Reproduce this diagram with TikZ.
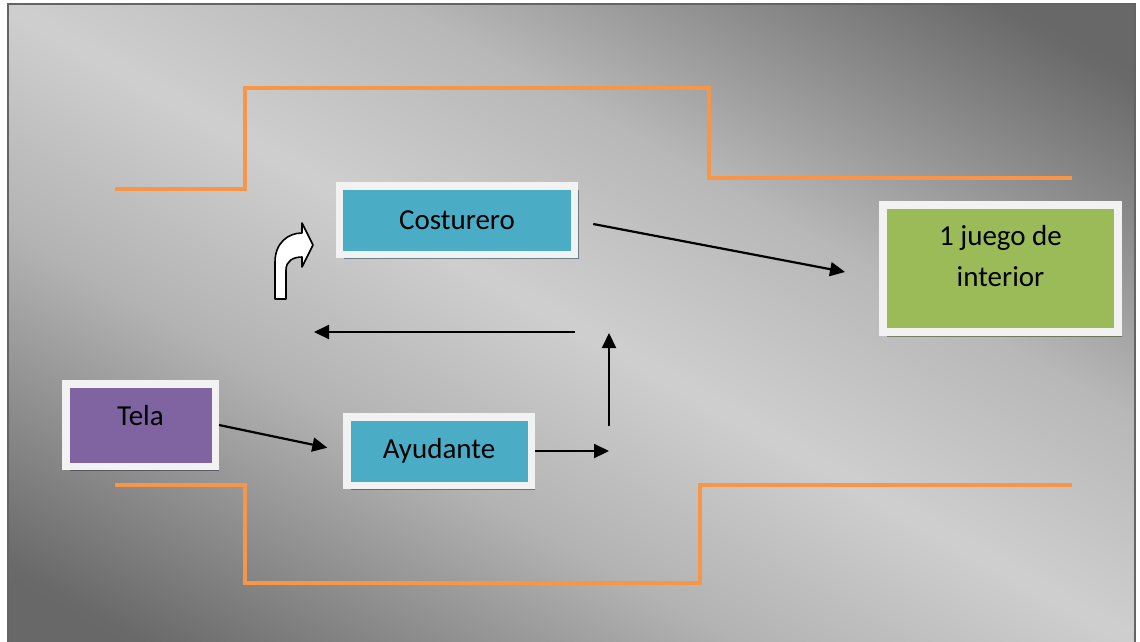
\documentclass[tikz,border=0pt]{standalone}
\usepackage{fontspec}
\setmainfont{Carlito}
\usepackage{tikz}
\usetikzlibrary{arrows.meta,calc,positioning,shadows}

\definecolor{frameline}{RGB}{100,100,100}
\definecolor{boxframe}{HTML}{F2F2F2}
\definecolor{boxblue}{HTML}{4BACC6}
\definecolor{boxgreen}{HTML}{9BBB59}
\definecolor{boxpurple}{HTML}{8064A2}
\definecolor{limitorange}{HTML}{F79646}

\pgfdeclareverticalshading{bgband}{100bp}{rgb(0bp)=(0.40,0.40,0.40); rgb(20bp)=(0.41,0.41,0.41);
  rgb(38bp)=(0.70,0.70,0.70); rgb(50bp)=(0.81,0.81,0.81); rgb(62bp)=(0.72,0.72,0.72);
  rgb(80bp)=(0.41,0.41,0.41); rgb(100bp)=(0.40,0.40,0.40)}

\tikzset{
  box/.style={draw=boxframe,line width=7.5pt,inner sep=0pt,minimum width=235pt,
    minimum height=68.5pt,font=\fontsize{29}{41}\selectfont},
  bluebox/.style={box,fill=boxblue,
    drop shadow={shadow xshift=4pt,shadow yshift=-4.5pt,fill=boxblue!40!black,opacity=.55}},
  greenbox/.style={box,fill=boxgreen,line width=8pt,
    drop shadow={shadow xshift=4pt,shadow yshift=-4.5pt,fill=boxgreen!40!black,opacity=.55}},
  purplebox/.style={box,fill=boxpurple,
    drop shadow={shadow xshift=4pt,shadow yshift=-4.5pt,fill=boxpurple!40!black,opacity=.55}},
  flow/.style={line width=2.2pt,-{Triangle[length=15pt,width=14pt]}},
  limit/.style={draw=limitorange,line width=4pt}
}

\begin{document}
\begin{tikzpicture}[x=1pt,y=-1pt]
  \useasboundingbox (0,0) rectangle (1140,641);
  \fill[white] (0,0) rectangle (1140,641);
  \shade[shading=bgband,shading angle=-29.4] (8,4) rectangle (1135,645);
  \draw[frameline,line width=2pt] (8,645) -- (8,4) -- (1135,4) -- (1135,645);

  % limites del proceso
  \draw[limit] (115,189) -- (245,189) -- (245,88) -- (709,88) -- (709,178) -- (1072,178);
  \draw[limit] (115,485) -- (245,485) -- (245,583) -- (700,583) -- (700,485) -- (1072,485);

  \node (costurero) [bluebox] at (457,220) {Costurero};
  \node (ayudante) [bluebox,minimum width=184.5pt] at (439,451) {Ayudante};
  \node (tela) [purplebox,minimum width=149.5pt,minimum height=82.5pt,
    text height=10pt,text depth=10pt] at (140.5,425) {Tela};
  \node (juego) [greenbox,minimum height=127pt] at (1000.5,268.5) {};
  \node (juegotxt) [font=\fontsize{29}{41}\selectfont,align=center,inner sep=0pt]
    at ([yshift=12pt]juego.center) {1 juego de\\interior};

  \coordinate (giro) at (609,451);
  \coordinate (sube) at (609,426);
  \coordinate (arriba) at (609,333);
  \coordinate (vuelta) at (575,332);
  \coordinate (regreso) at (314,332);

  \draw[flow,shorten >=16pt] (tela.east) -- (ayudante.west);
  \draw[flow] (ayudante.east) -- (giro);
  \draw[flow] (sube) -- (arriba);
  \draw[flow] (vuelta) -- (regreso);
  \draw[flow] ($(costurero.east)+(15,4)$) -- ($(juego.west)+(-34,3.5)$);

  % flecha curva hacia el costurero
  \draw[fill=white,line width=1.6pt,line join=round]
    (275,299) -- (275,262) .. controls (275,243) and (288,233) .. (302,233)
    -- (302,223) -- (313,245) -- (302,267) -- (302,257)
    .. controls (293,257) and (286,261) .. (286,270) -- (286,299) -- cycle;
\end{tikzpicture}
\end{document}
